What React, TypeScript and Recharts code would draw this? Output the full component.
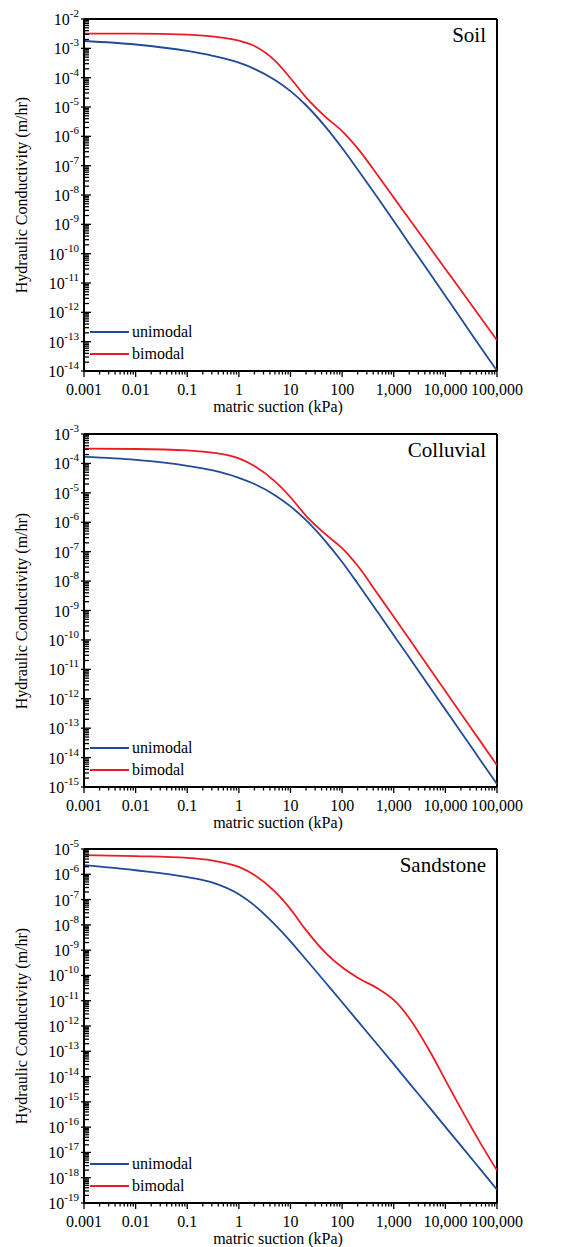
import { LineChart, Line, XAxis, YAxis, ReferenceLine, Legend } from "recharts";

// matric suction (kPa) at which the curves were read
const SUCTION_KPA = [
  0.001, 0.01, 0.1, 0.3, 1, 2, 5, 10, 20, 50, 100, 200, 500, 1000, 2000, 5000,
  10000, 20000, 50000, 100000,
];

// log10 of hydraulic conductivity (m/hr), one value per SUCTION_KPA point
const SOIL_UNIMODAL = [
  -2.75, -2.87, -3.09, -3.25, -3.49, -3.7, -4.08, -4.46, -4.94, -5.72, -6.4,
  -7.13, -8.12, -8.89, -9.66, -10.67, -11.44, -12.21, -13.23, -13.99,
];
const SOIL_BIMODAL = [
  -2.5, -2.5, -2.53, -2.59, -2.74, -2.92, -3.42, -4.02, -4.67, -5.37, -5.82,
  -6.41, -7.35, -8.09, -8.82, -9.79, -10.52, -11.25, -12.22, -12.95,
];
const COLLUVIAL_UNIMODAL = [
  -3.78, -3.88, -4.08, -4.23, -4.49, -4.7, -5.08, -5.46, -5.93, -6.69, -7.35,
  -8.08, -9.08, -9.84, -10.6, -11.61, -12.37, -13.13, -14.14, -14.9,
];
const COLLUVIAL_BIMODAL = [
  -3.5, -3.51, -3.56, -3.63, -3.83, -4.09, -4.61, -5.15, -5.78, -6.44, -6.88,
  -7.48, -8.46, -9.21, -9.97, -10.98, -11.74, -12.5, -13.5, -14.26,
];
const SANDSTONE_UNIMODAL = [
  -5.64, -5.84, -6.11, -6.32, -6.79, -7.23, -7.99, -8.65, -9.37, -10.33, -11.06,
  -11.8, -12.77, -13.51, -14.26, -15.24, -15.99, -16.73, -17.72, -18.47,
];
const SANDSTONE_BIMODAL = [
  -5.24, -5.28, -5.35, -5.45, -5.71, -6.03, -6.69, -7.38, -8.21, -9.15, -9.68,
  -10.09, -10.53, -10.97, -11.69, -13.0, -14.14, -15.27, -16.7, -17.71,
];

const X_TICK_VALUES = [0.001, 0.01, 0.1, 1, 10, 100, 1000, 10000, 100000];
const X_TICK_LABELS = ["0.001", "0.01", "0.1", "1", "10", "100", "1,000", "10,000", "100,000"];

const SOIL_Y_EXPONENTS = [-2, -3, -4, -5, -6, -7, -8, -9, -10, -11, -12, -13, -14];
const COLLUVIAL_Y_EXPONENTS = [-3, -4, -5, -6, -7, -8, -9, -10, -11, -12, -13, -14, -15];
const SANDSTONE_Y_EXPONENTS = [
  -5, -6, -7, -8, -9, -10, -11, -12, -13, -14, -15, -16, -17, -18, -19,
];

const SERIES_ORDER = ["unimodal", "bimodal"];

const BLUE = "#1f4b99";
const RED = "#ec1c24";
const FONT = "Liberation Serif, Times New Roman, DejaVu Serif, serif";

const WIDTH = 563;
const PLOT_LEFT = 84;
const MARGIN_RIGHT = 66;
const MARGIN_TOP = 19;

const isDecade = (v: number) => {
  const l = Math.log10(v);
  return Math.abs(l - Math.round(l)) < 1e-6;
};

// decade ticks plus 2..9 minor ticks between them
function logTicks(minExp: number, maxExp: number) {
  const out: number[] = [];
  for (let e = minExp; e < maxExp; e++) {
    out.push(Number(`1e${e}`));
    for (let k = 2; k <= 9; k++) out.push(Number(`${k}e${e}`));
  }
  out.push(Number(`1e${maxExp}`));
  return out;
}

function XTick({ x, y, payload }: any) {
  const v = payload.value;
  const major = isDecade(v);
  const idx = X_TICK_VALUES.findIndex((t) => Math.abs(Math.log10(t) - Math.log10(v)) < 1e-6);
  return (
    <g>
      <line x1={x} x2={x} y1={y} y2={y + (major ? 6 : 3.5)} stroke="#000" strokeWidth={1.3} />
      {major && idx >= 0 && (
        <text x={x} y={y + 24} textAnchor="middle" fontSize={16} fontFamily={FONT} fill="#000">
          {X_TICK_LABELS[idx]}
        </text>
      )}
    </g>
  );
}

function YTick({ x, y, payload }: any) {
  const v = payload.value;
  const major = isDecade(v);
  const exp = Math.round(Math.log10(v));
  return (
    <g>
      <line
        x1={major ? x - 3 : x}
        x2={x + (major ? 7 : 5)}
        y1={y}
        y2={y}
        stroke="#000"
        strokeWidth={1.3}
      />
      {major && (
        <text x={x - 5} y={y + 6} textAnchor="end" fontSize={16} fontFamily={FONT} fill="#000">
          10
          <tspan dy={-8} fontSize={11}>
            {String(exp)}
          </tspan>
        </text>
      )}
    </g>
  );
}

function LegendBox({ payload }: any) {
  const items = [...(payload ?? [])].sort(
    (a: any, b: any) => SERIES_ORDER.indexOf(a.value) - SERIES_ORDER.indexOf(b.value)
  );
  return (
    <div style={{ fontFamily: FONT, fontSize: 16, color: "#000" }}>
      {items.map((item: any) => (
        <div key={item.value} style={{ display: "flex", alignItems: "center", height: 22 }}>
          <span
            style={{ display: "inline-block", width: 39, height: 2, background: item.color, marginRight: 3 }}
          />
          <span>{item.value}</span>
        </div>
      ))}
    </div>
  );
}

interface PanelProps {
  name: string;
  unimodal: number[];
  bimodal: number[];
  yExponents: number[];
  top: number;
  height: number;
  xAxisHeight: number;
}

function Panel({ name, unimodal, bimodal, yExponents, top, height, xAxisHeight }: PanelProps) {
  const data = SUCTION_KPA.map((x, i) => ({
    x,
    unimodal: Math.pow(10, unimodal[i]),
    bimodal: Math.pow(10, bimodal[i]),
  }));
  const maxExp = Math.max(...yExponents);
  const minExp = Math.min(...yExponents);
  const yMax = Number(`1e${maxExp}`);
  const yMin = Number(`1e${minExp}`);
  const plotBottom = height - xAxisHeight;
  const plotCenterY = (MARGIN_TOP + plotBottom) / 2;

  return (
    <div style={{ position: "absolute", left: 0, top, width: WIDTH, height }}>
      <LineChart
        width={WIDTH}
        height={height}
        data={data}
        margin={{ top: MARGIN_TOP, right: MARGIN_RIGHT, bottom: 0, left: 0 }}
      >
        <XAxis
          dataKey="x"
          type="number"
          scale="log"
          domain={[0.001, 100000]}
          ticks={logTicks(-3, 5)}
          interval={0}
          allowDataOverflow
          height={xAxisHeight}
          tickSize={0}
          tickMargin={0}
          tick={<XTick />}
          axisLine={{ stroke: "#000", strokeWidth: 2 }}
        />
        <YAxis
          type="number"
          scale="log"
          domain={[yMin, yMax]}
          ticks={logTicks(minExp, maxExp)}
          interval={0}
          allowDataOverflow
          width={PLOT_LEFT}
          tickSize={0}
          tickMargin={0}
          tick={<YTick />}
          axisLine={{ stroke: "#000", strokeWidth: 2 }}
        />
        <ReferenceLine y={yMax} stroke="#000" strokeWidth={2} ifOverflow="visible" />
        <ReferenceLine x={100000} stroke="#000" strokeWidth={2} ifOverflow="visible" />
        <Legend
          layout="horizontal"
          verticalAlign="middle"
          align="center"
          content={<LegendBox />}
          wrapperStyle={{ left: 90, top: plotBottom - 50, width: "auto", height: "auto" }}
        />
        <Line
          type="monotone"
          dataKey="unimodal"
          name="unimodal"
          stroke={BLUE}
          strokeWidth={1.8}
          dot={false}
          isAnimationActive={false}
        />
        <Line
          type="monotone"
          dataKey="bimodal"
          name="bimodal"
          stroke={RED}
          strokeWidth={1.8}
          dot={false}
          isAnimationActive={false}
        />
      </LineChart>
      <div
        style={{
          position: "absolute",
          right: 77,
          top: 25,
          fontFamily: FONT,
          fontSize: 21,
          lineHeight: "21px",
          color: "#000",
        }}
      >
        {name}
      </div>
      <div
        style={{
          position: "absolute",
          left: 22,
          top: plotCenterY,
          transform: "translate(-50%, -50%) rotate(-90deg)",
          whiteSpace: "nowrap",
          fontFamily: FONT,
          fontSize: 16,
          lineHeight: "16px",
          color: "#000",
        }}
      >
        Hydraulic Conductivity (m/hr)
      </div>
      <div
        style={{
          position: "absolute",
          left: 278,
          top: plotBottom + 36,
          transform: "translate(-50%, -50%)",
          whiteSpace: "nowrap",
          fontFamily: FONT,
          fontSize: 16,
          lineHeight: "16px",
          color: "#000",
        }}
      >
        matric suction (kPa)
      </div>
    </div>
  );
}

export default function App() {
  return (
    <div
      style={{
        position: "absolute",
        left: 0,
        top: 0,
        width: WIDTH,
        height: 1247,
        background: "#fff",
        fontFamily: FONT,
      }}
    >
      <Panel
        name="Soil"
        unimodal={SOIL_UNIMODAL}
        bimodal={SOIL_BIMODAL}
        yExponents={SOIL_Y_EXPONENTS}
        top={0}
        height={415}
        xAxisHeight={44}
      />
      <Panel
        name="Colluvial"
        unimodal={COLLUVIAL_UNIMODAL}
        bimodal={COLLUVIAL_BIMODAL}
        yExponents={COLLUVIAL_Y_EXPONENTS}
        top={415}
        height={415}
        xAxisHeight={43}
      />
      <Panel
        name="Sandstone"
        unimodal={SANDSTONE_UNIMODAL}
        bimodal={SANDSTONE_BIMODAL}
        yExponents={SANDSTONE_Y_EXPONENTS}
        top={830}
        height={417}
        xAxisHeight={44}
      />
    </div>
  );
}
